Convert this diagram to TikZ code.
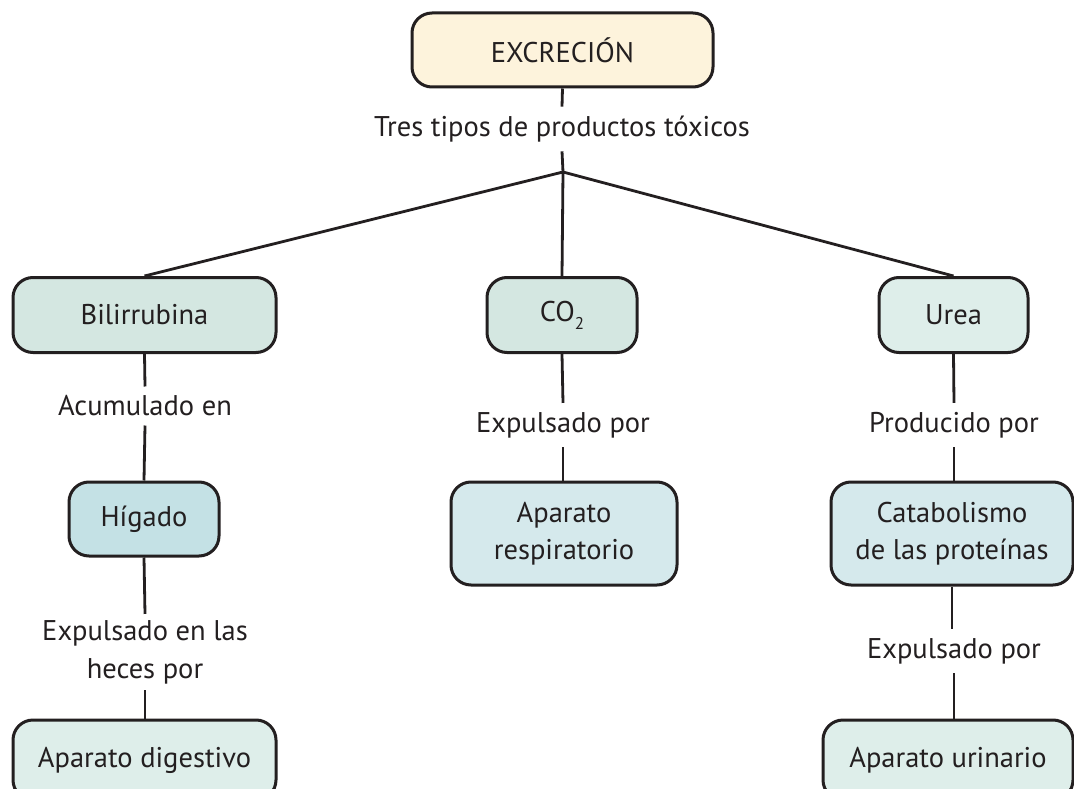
\documentclass[tikz,border=0pt]{standalone}
\usepackage{fontspec}
\setmainfont{PT Sans}
\definecolor{ink}{HTML}{231F20}
\definecolor{cream}{HTML}{FDF3DC}
\definecolor{mintA}{HTML}{D4E7E1}
\definecolor{mintB}{HTML}{DEEEEA}
\definecolor{blueA}{HTML}{C4E1E5}
\definecolor{blueB}{HTML}{D5E9EC}
\tikzset{
  box/.style={draw=ink, line width=3pt, rounded corners=20pt, align=center, text=ink, inner sep=0pt, font=\fontsize{28.5}{37}\selectfont},
  lbl/.style={text=ink, align=center, inner sep=9pt, font=\fontsize{28.5}{38}\selectfont},
  con/.style={draw=ink, line width=2.8pt}
}
\begin{document}
\begin{tikzpicture}[x=1pt,y=-1pt]
\useasboundingbox (0,0) rectangle (1074,789);
\clip (0,0) rectangle (1074,789);
\node[box, fill=cream, minimum width=301pt, minimum height=74pt] (exc) at (562.5,50) {EXCRECIÓN};
\node[lbl] (tres) at (562,129) {Tres tipos de productos tóxicos};
\coordinate (junc) at (563,172);
\node[box, fill=mintA, minimum width=263pt, minimum height=75pt] (bili) at (144.5,315) {Bilirrubina};
\node[box, fill=mintA, minimum width=150pt, minimum height=75pt] (co2) at (562,315) {CO\raisebox{-8pt}{\fontsize{17}{17}\selectfont 2}};
\node[box, fill=mintB, minimum width=149pt, minimum height=75pt] (urea) at (953.5,315) {Urea};
\node[lbl] (acum) at (145,406) {Acumulado en};
\node[box, fill=blueA, minimum width=150pt, minimum height=74pt] (hig) at (144,519) {Hígado};
\node[lbl, inner sep=6pt] (heces) at (145,652) {Expulsado en las\\heces por};
\node[box, fill=mintB, minimum width=263pt, minimum height=80pt] (dig) at (144.5,760) {Aparato digestivo};
\node[lbl] (exp1) at (563,425) {Expulsado por};
\node[box, fill=blueB, minimum width=226pt, minimum height=103pt] (resp) at (564,533.5) {Aparato\\respiratorio};
\node[lbl] (prod) at (954,425) {Producido por};
\node[box, fill=blueB, minimum width=242pt, minimum height=103pt] (cat) at (952,533.5) {Catabolismo\\de las proteínas};
\node[lbl] (exp2) at (954,651) {Expulsado por};
\node[box, fill=mintB, minimum width=250pt, minimum height=80pt] (uri) at (948,760) {Aparato urinario};
\draw[con] (exc.south) -- (tres.north);
\draw[con] (tres.south) -- (junc);
\draw[con] (junc) -- (bili.north);
\draw[con] (junc) -- (co2.north);
\draw[con] (junc) -- (urea.north);
\draw[con] (bili.south) -- (acum.north);
\draw[con] (acum.south) -- (hig.north);
\draw[con] (hig.south) -- (heces.north);
\draw[con] (heces.south) -- (heces.south |- dig.north);
\draw[con] (co2.south) -- (exp1.north);
\draw[con] (exp1.south) -- (exp1.south |- resp.north);
\draw[con] (urea.south) -- (prod.north);
\draw[con] (prod.south) -- (prod.south |- cat.north);
\draw[con] (cat.south) -- (cat.south |- exp2.north);
\draw[con] (exp2.south) -- (exp2.south |- uri.north);
\end{tikzpicture}
\end{document}
